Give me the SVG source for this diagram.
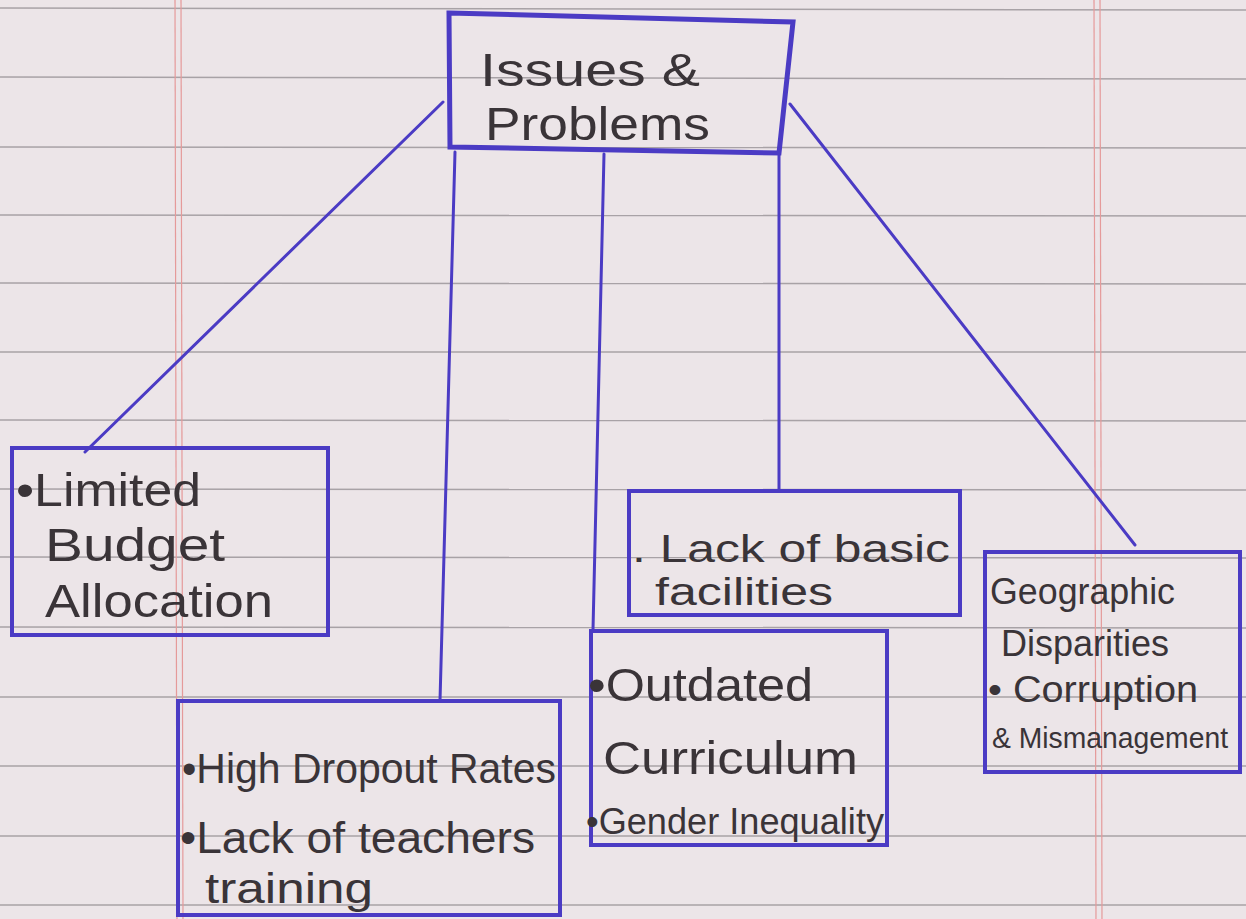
<svg xmlns="http://www.w3.org/2000/svg" width="1246" height="919" viewBox="0 0 1246 919">
<style>
.rule{stroke:#a8a2a6;stroke-width:1.5}
.margin{stroke:#e59a9a;stroke-width:1.2}
.box{fill:none;stroke:#4b3bc4;stroke-width:4}
.conn{fill:none;stroke:#4b3bc4;stroke-width:3;stroke-linecap:round}
.t{font-family:"Liberation Sans",Arial,sans-serif;fill:#3a3438}
</style>
<rect width="1246" height="919" fill="#ece5e8"/>
<g id="paper">
<line class="rule" x1="0" y1="8" x2="1246" y2="10"/>
<line class="rule" x1="0" y1="77" x2="1246" y2="79"/>
<line class="rule" x1="0" y1="147" x2="1246" y2="148"/>
<line class="rule" x1="0" y1="215" x2="1246" y2="216"/>
<line class="rule" x1="0" y1="283" x2="1246" y2="284"/>
<line class="rule" x1="0" y1="352" x2="1246" y2="352"/>
<line class="rule" x1="0" y1="420" x2="1246" y2="421"/>
<line class="rule" x1="0" y1="489" x2="1246" y2="490"/>
<line class="rule" x1="0" y1="557" x2="1246" y2="558"/>
<line class="rule" x1="0" y1="627" x2="1246" y2="628"/>
<line class="rule" x1="0" y1="697" x2="1246" y2="697"/>
<line class="rule" x1="0" y1="766" x2="1246" y2="766"/>
<line class="rule" x1="0" y1="836" x2="1246" y2="836"/>
<line class="rule" x1="0" y1="905" x2="1246" y2="905"/>
<line class="margin" x1="175" y1="0" x2="177" y2="919"/>
<line class="margin" x1="181" y1="0" x2="183" y2="919"/>
<line class="margin" x1="1094" y1="0" x2="1096" y2="919"/>
<line class="margin" x1="1100" y1="0" x2="1102" y2="919"/>
</g>
<g id="connectors">
<line class="conn" x1="443" y1="102" x2="85" y2="452"/>
<line class="conn" x1="455" y1="152" x2="440" y2="701"/>
<line class="conn" x1="604" y1="154" x2="593" y2="630"/>
<line class="conn" x1="779" y1="154" x2="779" y2="490"/>
<line class="conn" x1="790" y1="104" x2="1135" y2="545"/>
</g>
<g id="n-root">
<path class="box" d="M449 13 L793 22 L779 153 L450 147 Z" style="stroke-width:5"/>
<text class="t" x="480" y="86" font-size="46" textLength="220" lengthAdjust="spacingAndGlyphs">Issues &amp;</text>
<text class="t" x="485" y="140" font-size="46" textLength="225" lengthAdjust="spacingAndGlyphs">Problems</text>
</g>
<g id="n-budget">
<rect class="box" x="12" y="448" width="316" height="187"/>
<text class="t" x="16" y="506" font-size="46" textLength="185" lengthAdjust="spacingAndGlyphs">•Limited</text>
<text class="t" x="45" y="561" font-size="46" textLength="180" lengthAdjust="spacingAndGlyphs">Budget</text>
<text class="t" x="45" y="617" font-size="46" textLength="228" lengthAdjust="spacingAndGlyphs">Allocation</text>
</g>
<g id="n-dropout">
<rect class="box" x="178" y="701" width="382" height="214"/>
<text class="t" x="182" y="783" font-size="42" textLength="374" lengthAdjust="spacingAndGlyphs">•High Dropout Rates</text>
<text class="t" x="180" y="853" font-size="44" textLength="355" lengthAdjust="spacingAndGlyphs">•Lack of teachers</text>
<text class="t" x="205" y="903" font-size="42" textLength="168" lengthAdjust="spacingAndGlyphs">training</text>
</g>
<g id="n-facilities">
<rect class="box" x="629" y="491" width="331" height="124"/>
<text class="t" x="632" y="562" font-size="38" textLength="318" lengthAdjust="spacingAndGlyphs">. Lack of basic</text>
<text class="t" x="655" y="605" font-size="38" textLength="178" lengthAdjust="spacingAndGlyphs">facilities</text>
</g>
<g id="n-curriculum">
<rect class="box" x="591" y="631" width="296" height="214"/>
<text class="t" x="588" y="701" font-size="46" textLength="225" lengthAdjust="spacingAndGlyphs">•Outdated</text>
<text class="t" x="603" y="774" font-size="46" textLength="255" lengthAdjust="spacingAndGlyphs">Curriculum</text>
<text class="t" x="586" y="834" font-size="36" textLength="298" lengthAdjust="spacingAndGlyphs">•Gender Inequality</text>
</g>
<g id="n-geo">
<rect class="box" x="985" y="552" width="255" height="220"/>
<text class="t" x="990" y="604" font-size="36" textLength="185" lengthAdjust="spacingAndGlyphs">Geographic</text>
<text class="t" x="1001" y="656" font-size="36" textLength="168" lengthAdjust="spacingAndGlyphs">Disparities</text>
<text class="t" x="988" y="702" font-size="36" textLength="210" lengthAdjust="spacingAndGlyphs">• Corruption</text>
<text class="t" x="992" y="748" font-size="30" textLength="236" lengthAdjust="spacingAndGlyphs">&amp; Mismanagement</text>
</g>
</svg>
